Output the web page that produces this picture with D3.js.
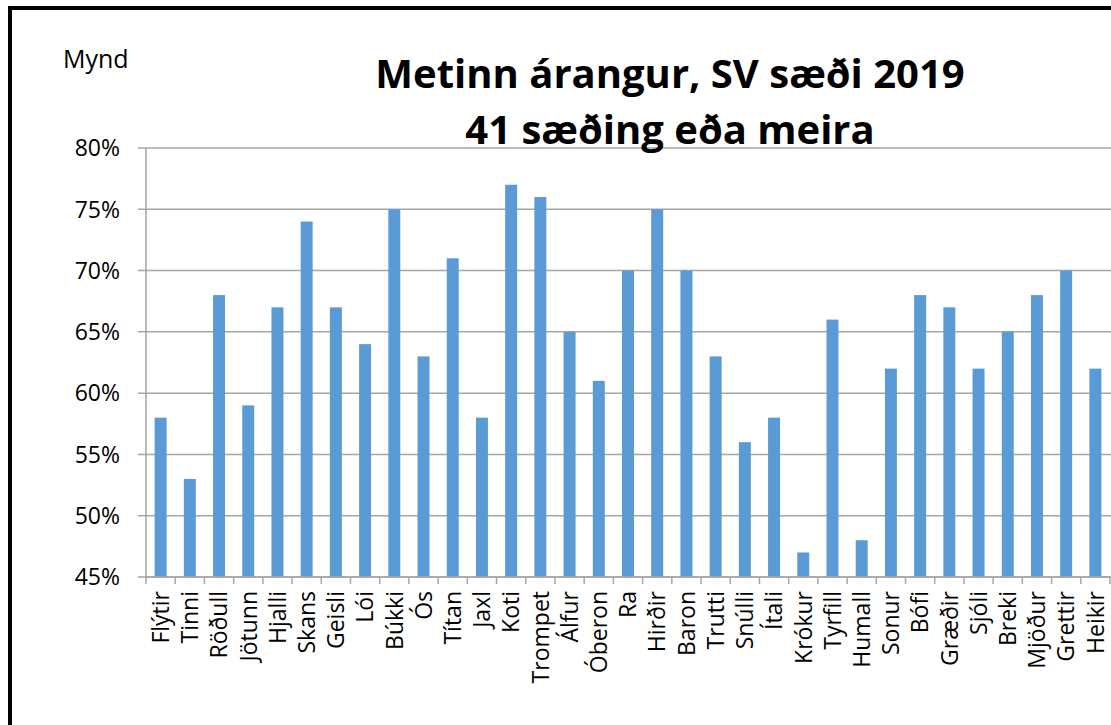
<html>
<head>
<script src="https://d3js.org/d3.v7.min.js"></script>
<style>
  body { margin: 0; background: #fff; }
  text { font-family: "Open Sans", sans-serif; }
</style>
</head>
<body>
<script>
    // chart data
    var names = ["Flýtir", "Tinni", "Röðull", "Jötunn", "Hjalli", "Skans", "Geisli", "Lói", "Búkki", "Ós",
        "Títan", "Jaxl", "Koti", "Trompet", "Álfur", "Óberon", "Ra", "Hirðir", "Baron", "Trutti",
        "Snúlli", "Ítali", "Krókur", "Tyrfill", "Humall", "Sonur", "Bófi", "Græðir", "Sjóli", "Breki",
        "Mjöður", "Grettir", "Heikir"];
    var values = [0.58, 0.53, 0.68, 0.59, 0.67, 0.74, 0.67, 0.64, 0.75, 0.63,
        0.71, 0.58, 0.77, 0.76, 0.65, 0.61, 0.70, 0.75, 0.70, 0.63,
        0.56, 0.58, 0.47, 0.66, 0.48, 0.62, 0.68, 0.67, 0.62, 0.65,
        0.68, 0.70, 0.62];
    var yTicks = [0.45, 0.50, 0.55, 0.60, 0.65, 0.70, 0.75, 0.80];
    var titleLines = ["Metinn árangur, SV sæði 2019", "41 sæðing eða meira"];

    var W = 1111, H = 725;
    var svg = d3.select("body").append("svg")
        .attr("width", W)
        .attr("height", H);

    // outer frame (runs off the right and bottom edges)
    svg.append("rect")
        .attr("x", 10).attr("y", 8)
        .attr("width", W + 20).attr("height", H + 20)
        .attr("fill", "none")
        .attr("stroke", "#000")
        .attr("stroke-width", 4);

    var plotL = 146, plotR = 1110, plotT = 148, plotB = 577;

    var x = d3.scaleBand().domain(names).range([plotL, plotR]).paddingInner(0.59).paddingOuter(0.295);
    var xb = d3.scaleBand().domain(names).range([plotL, plotR]);
    var y = d3.scaleLinear().domain([0.45, 0.80]).range([plotB, plotT]);

    // gridlines
    svg.append("g").selectAll("line")
        .data(yTicks)
        .enter().append("line")
        .attr("x1", plotL - 8).attr("x2", W)
        .attr("y1", function (d) { return y(d); })
        .attr("y2", function (d) { return y(d); })
        .attr("stroke", "#a6a6a6")
        .attr("stroke-width", 1.5);

    // y tick labels
    svg.append("g").selectAll("text")
        .data(yTicks)
        .enter().append("text")
        .attr("x", 120)
        .attr("y", function (d) { return y(d); })
        .attr("dy", "0.36em")
        .attr("text-anchor", "end")
        .attr("font-size", 23)
        .text(d3.format(".0%"));

    // y axis line
    svg.append("line")
        .attr("x1", plotL).attr("x2", plotL)
        .attr("y1", plotT).attr("y2", plotB)
        .attr("stroke", "#a6a6a6").attr("stroke-width", 1.5);

    // bars
    svg.append("g").selectAll("rect")
        .data(values)
        .enter().append("rect")
        .attr("x", function (d, i) { return x(names[i]); })
        .attr("width", x.bandwidth())
        .attr("y", function (d) { return y(d); })
        .attr("height", function (d) { return plotB - y(d); })
        .attr("fill", "#5b9bd5");

    // x axis with tick marks at category boundaries
    svg.append("line")
        .attr("x1", plotL).attr("x2", W)
        .attr("y1", plotB).attr("y2", plotB)
        .attr("stroke", "#a6a6a6").attr("stroke-width", 1.5);
    svg.append("g").selectAll("line")
        .data(names.concat(["end"]))
        .enter().append("line")
        .attr("x1", function (d, i) { return plotL + i * xb.step(); })
        .attr("x2", function (d, i) { return plotL + i * xb.step(); })
        .attr("y1", plotB).attr("y2", plotB + 7)
        .attr("stroke", "#a6a6a6").attr("stroke-width", 1.5);

    // rotated category labels
    svg.append("g").selectAll("text")
        .data(names)
        .enter().append("text")
        .attr("transform", function (d) {
            return "translate(" + (xb(d) + xb.bandwidth() / 2) + "," + (plotB + 14) + ") rotate(-90)";
        })
        .attr("dy", "0.36em")
        .attr("text-anchor", "end")
        .attr("font-size", 23)
        .text(function (d) { return d; });

    // title
    svg.append("g").selectAll("text")
        .data(titleLines)
        .enter().append("text")
        .attr("x", 670)
        .attr("y", function (d, i) { return 88 + i * 56; })
        .attr("text-anchor", "middle")
        .attr("font-size", 40)
        .attr("font-weight", "bold")
        .text(function (d) { return d; });

    svg.append("text")
        .attr("x", 63).attr("y", 68)
        .attr("font-size", 25)
        .text("Mynd");
</script>
</body>
</html>
